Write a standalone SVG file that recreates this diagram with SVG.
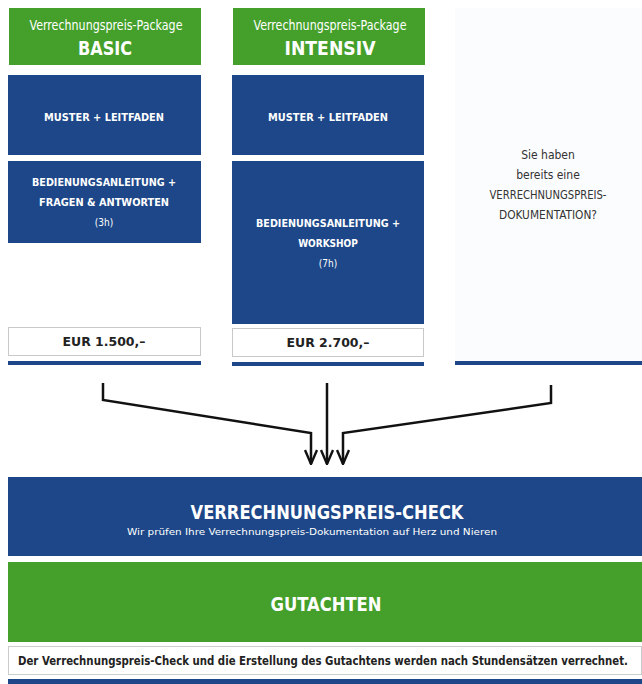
<svg xmlns="http://www.w3.org/2000/svg" width="642" height="684" viewBox="0 0 642 684">
<defs>
<style>
text{font-family:"DejaVu Sans Condensed","Liberation Sans Narrow","Liberation Sans",sans-serif;text-anchor:middle}
.green{fill:#45a02b}
.blue{fill:#1d4788}
.w{fill:#ffffff}
.pk{font-size:14px}
.tt{font-size:20px;font-weight:bold}
.bx{font-size:10px;font-weight:bold;fill:#ffffff}
.hr{font-size:10px;fill:#ffffff}
.price{fill:#ffffff;stroke:#c9c9c9;stroke-width:1}
.pt{font-size:13px;font-weight:bold;fill:#222}
.q{font-size:12px;fill:#333}
.con{fill:none;stroke:#111;stroke-width:2.5}
</style>
<marker id="ah" markerWidth="16" markerHeight="14" viewBox="0 0 16 14" refX="15" refY="7" orient="auto" markerUnits="userSpaceOnUse">
<path d="M1,1 L15,7 L1,13" fill="none" stroke="#111" stroke-width="2.4"/>
</marker>
</defs>
<rect width="642" height="684" fill="#ffffff"/>
<g id="basic">
<rect class="green" x="9" y="8" width="192" height="57"/>
<text class="pk w" x="106" y="30" textLength="153" lengthAdjust="spacingAndGlyphs">Verrechnungspreis-Package</text>
<text class="tt w" x="105" y="55" textLength="54" lengthAdjust="spacingAndGlyphs">BASIC</text>
<rect class="blue" x="8" y="75" width="193" height="80"/>
<text class="bx" x="104" y="121" textLength="120" lengthAdjust="spacingAndGlyphs">MUSTER + LEITFADEN</text>
<rect class="blue" x="8" y="161" width="193" height="82"/>
<text class="bx" x="104" y="186" textLength="144" lengthAdjust="spacingAndGlyphs">BEDIENUNGSANLEITUNG +</text>
<text class="bx" x="104" y="206" textLength="130" lengthAdjust="spacingAndGlyphs">FRAGEN &amp; ANTWORTEN</text>
<text class="hr" x="104" y="226">(3h)</text>
<rect class="price" x="8.5" y="327.5" width="192" height="28"/>
<text class="pt" x="104" y="346" textLength="83" lengthAdjust="spacingAndGlyphs">EUR 1.500,–</text>
<rect class="blue" x="8" y="361" width="193" height="4"/>
</g>
<g id="intensiv">
<rect class="green" x="233" y="8" width="192" height="57"/>
<text class="pk w" x="330" y="30" textLength="153" lengthAdjust="spacingAndGlyphs">Verrechnungspreis-Package</text>
<text class="tt w" x="330" y="55" textLength="91" lengthAdjust="spacingAndGlyphs">INTENSIV</text>
<rect class="blue" x="232" y="75" width="192" height="80"/>
<text class="bx" x="328" y="121" textLength="120" lengthAdjust="spacingAndGlyphs">MUSTER + LEITFADEN</text>
<rect class="blue" x="232" y="161" width="192" height="163"/>
<text class="bx" x="328" y="227" textLength="144" lengthAdjust="spacingAndGlyphs">BEDIENUNGSANLEITUNG +</text>
<text class="bx" x="328" y="247">WORKSHOP</text>
<text class="hr" x="328" y="267">(7h)</text>
<rect class="price" x="232.5" y="328.5" width="191" height="28"/>
<text class="pt" x="328" y="347" textLength="83" lengthAdjust="spacingAndGlyphs">EUR 2.700,–</text>
<rect class="blue" x="232" y="362" width="192" height="4"/>
</g>
<g id="dokumentation">
<rect x="455" y="8" width="187" height="353" fill="#fbfcfd"/>
<text class="q" x="548" y="159">Sie haben</text>
<text class="q" x="548" y="179">bereits eine</text>
<text class="q" x="548" y="199" textLength="117" lengthAdjust="spacingAndGlyphs">VERRECHNUNGSPREIS-</text>
<text class="q" x="548" y="219" textLength="98" lengthAdjust="spacingAndGlyphs">DOKUMENTATION?</text>
<rect class="blue" x="455" y="361" width="187" height="4"/>
</g>
<g id="connectors">
<path class="con" d="M103,383 V400 L311,433 V464" marker-end="url(#ah)"/>
<path class="con" d="M327,383 V464" marker-end="url(#ah)"/>
<path class="con" d="M551,385 V403 L343,433 V464" marker-end="url(#ah)"/>
</g>
<g id="check">
<rect class="blue" x="8" y="477" width="634" height="79"/>
<text class="w" x="327" y="519" font-size="20" font-weight="bold" textLength="273" lengthAdjust="spacingAndGlyphs">VERRECHNUNGSPREIS-CHECK</text>
<text class="w" x="312" y="535" font-size="9" textLength="370" lengthAdjust="spacingAndGlyphs">Wir prüfen Ihre Verrechnungspreis-Dokumentation auf Herz und Nieren</text>
</g>
<g id="gutachten">
<rect class="green" x="8" y="562" width="634" height="80"/>
<text class="w" x="326" y="611" font-size="20" font-weight="bold" textLength="111" lengthAdjust="spacingAndGlyphs">GUTACHTEN</text>
</g>
<g id="hinweis">
<rect x="8.5" y="646.5" width="633" height="28" fill="#ffffff" stroke="#cccccc"/>
<text x="323" y="665" font-size="11.5" font-weight="bold" fill="#222" textLength="610" lengthAdjust="spacingAndGlyphs">Der Verrechnungspreis-Check und die Erstellung des Gutachtens werden nach Stundensätzen verrechnet.</text>
<rect class="blue" x="8" y="679" width="634" height="5"/>
</g>
</svg>
